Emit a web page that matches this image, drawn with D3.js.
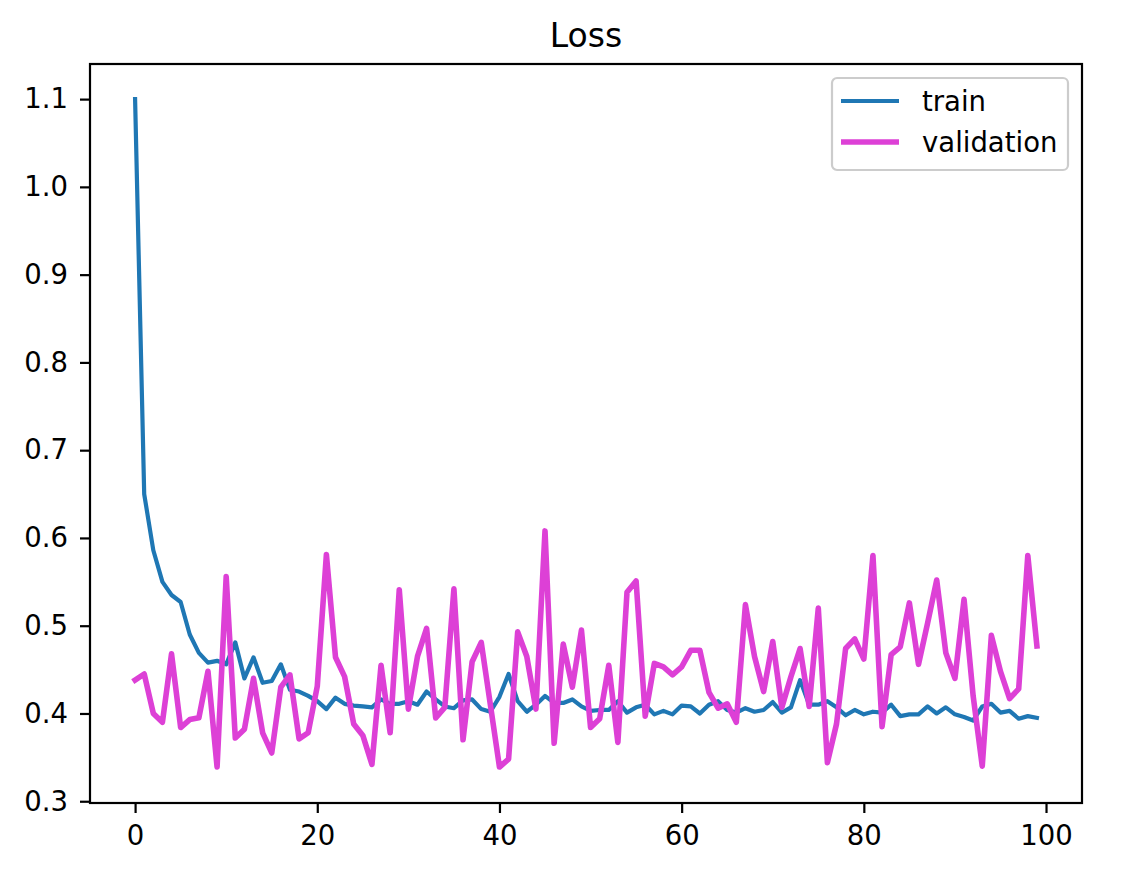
<!DOCTYPE html>
<html>
<head>
<meta charset="utf-8">
<script src="https://cdn.jsdelivr.net/npm/d3@7"></script>
<style>
  body { margin: 0; background: #fff; }
  svg text { font-family: "DejaVu Sans", sans-serif; fill: #000; }
</style>
</head>
<body>
<svg id="chart" width="1130" height="871"></svg>
<script>
// --- data ---
const trainLoss = [
  1.1, 0.65, 0.586, 0.55, 0.535, 0.527, 0.49, 0.469, 0.458, 0.46,
  0.456, 0.481, 0.44, 0.464, 0.435, 0.437, 0.456, 0.427, 0.425, 0.42,
  0.414, 0.405, 0.418, 0.411, 0.409, 0.408, 0.407, 0.416, 0.411, 0.411,
  0.414, 0.41, 0.425, 0.416, 0.408, 0.406, 0.415, 0.416, 0.405, 0.402,
  0.419, 0.445, 0.414, 0.402, 0.41, 0.42, 0.412, 0.412, 0.416, 0.408,
  0.403, 0.404, 0.404, 0.414, 0.401, 0.407, 0.41, 0.399, 0.403, 0.399,
  0.409, 0.408, 0.4, 0.41, 0.414, 0.404, 0.401, 0.406, 0.402, 0.404,
  0.413, 0.401, 0.407, 0.438, 0.41, 0.41, 0.414, 0.407, 0.398, 0.404,
  0.399, 0.402, 0.401, 0.41, 0.397, 0.399, 0.399, 0.408, 0.4, 0.407,
  0.399, 0.396, 0.392, 0.408, 0.411, 0.401, 0.403, 0.394, 0.397, 0.395
];
const valLoss = [
  0.438, 0.445, 0.4, 0.39, 0.468, 0.384, 0.393, 0.395, 0.448, 0.339,
  0.556, 0.372, 0.382, 0.44, 0.378, 0.355, 0.43, 0.444, 0.371, 0.378,
  0.431, 0.581, 0.464, 0.442, 0.388, 0.375, 0.342, 0.455, 0.378, 0.541,
  0.405, 0.465, 0.497, 0.395, 0.407, 0.542, 0.37, 0.459, 0.481, 0.41,
  0.339, 0.348, 0.493, 0.465, 0.405, 0.608, 0.366, 0.479, 0.43, 0.495,
  0.384, 0.394, 0.455, 0.367, 0.538, 0.551, 0.397, 0.457, 0.453, 0.444,
  0.453, 0.472, 0.472, 0.424, 0.406, 0.411, 0.39, 0.524, 0.465, 0.425,
  0.482, 0.407, 0.442, 0.474, 0.408, 0.52, 0.344, 0.388, 0.474, 0.485,
  0.462, 0.58, 0.385, 0.467, 0.476, 0.526, 0.456, 0.503, 0.552, 0.469,
  0.44, 0.53, 0.42, 0.34, 0.489, 0.448, 0.417, 0.428, 0.58, 0.477
];
const xTicks = [0, 20, 40, 60, 80, 100];
const yTicks = [0.3, 0.4, 0.5, 0.6, 0.7, 0.8, 0.9, 1.0, 1.1];
const seriesNames = ["train", "validation"];
const seriesColors = ["#1f77b4", "#dd40d6"];
const seriesWidths = [4.2, 5.6];

// --- layout ---
const svg = d3.select("#chart");
const plotL = 90, plotR = 1082, plotT = 64, plotB = 803;
const fontPx = 27.5;

const x = d3.scaleLinear().domain([-4.95, 103.95]).range([plotL, plotR]);
const y = d3.scaleLinear().domain([0.298, 1.14]).range([plotB, plotT]);

// title
svg.append("text")
  .attr("x", (plotL + plotR) / 2).attr("y", 47)
  .attr("text-anchor", "middle")
  .style("font-size", "33px")
  .text("Loss");

// lines
const line = d3.line().x((d, i) => x(i)).y(d => y(d));
const plot = svg.append("g");
[trainLoss, valLoss].forEach((data, i) => {
  plot.append("path").datum(data)
    .attr("fill", "none").attr("stroke", seriesColors[i])
    .attr("stroke-width", seriesWidths[i])
    .attr("stroke-linejoin", "round").attr("stroke-linecap", "square")
    .attr("d", line);
});

// axes
const xAxis = d3.axisBottom(x).tickValues(xTicks).tickSize(10).tickPadding(12.5).tickFormat(d3.format("d"));
const yAxis = d3.axisLeft(y).tickValues(yTicks).tickSize(10).tickPadding(12).tickFormat(d3.format(".1f"));

const gx = svg.append("g").attr("transform", `translate(0,${plotB})`).call(xAxis);
const gy = svg.append("g").attr("transform", `translate(${plotL},0)`).call(yAxis);
[gx, gy].forEach(g => {
  g.select(".domain").remove();
  g.selectAll(".tick line").attr("stroke", "#000").attr("stroke-width", 2.2);
  g.selectAll(".tick text").style("font-size", fontPx + "px").attr("fill", "#000");
});

// frame
svg.append("rect")
  .attr("x", plotL).attr("y", plotT)
  .attr("width", plotR - plotL).attr("height", plotB - plotT)
  .attr("fill", "none").attr("stroke", "#000").attr("stroke-width", 2.2);

// legend
const lg = svg.append("g").attr("transform", "translate(832,78)");
lg.append("rect")
  .attr("width", 236).attr("height", 92).attr("rx", 5)
  .attr("fill", "#fff").attr("fill-opacity", 0.8)
  .attr("stroke", "#cccccc").attr("stroke-width", 2.2);
seriesNames.forEach((name, i) => {
  const yy = 23 + i * 41;
  lg.append("line")
    .attr("x1", 9).attr("x2", 67).attr("y1", yy).attr("y2", yy)
    .attr("stroke", seriesColors[i]).attr("stroke-width", seriesWidths[i]);
  lg.append("text")
    .attr("x", 90).attr("y", yy + 10)
    .style("font-size", fontPx + "px")
    .text(name);
});
</script>
</body>
</html>
